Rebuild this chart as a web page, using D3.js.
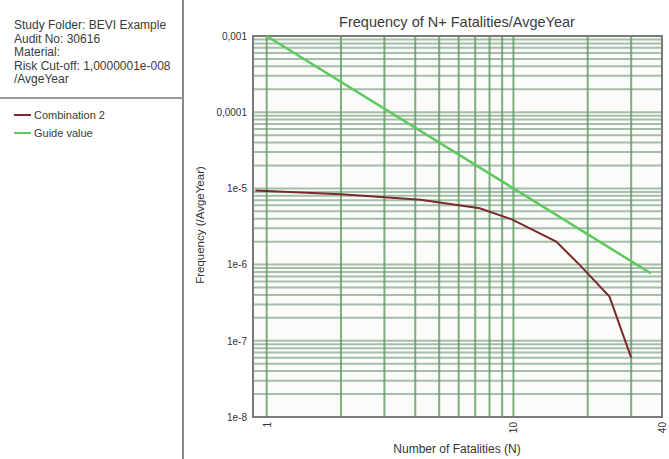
<!DOCTYPE html>
<html>
<head>
<meta charset="utf-8">
<script src="https://cdn.jsdelivr.net/npm/d3@7"></script>
<style>
  body { margin: 0; background: #fff; }
  svg { display: block; font-family: "Liberation Sans", Arial, sans-serif; }
  .axis path, .axis line { display: none; }
  .axis text { fill: #333; font-size: 10px; }
</style>
</head>
<body>
<svg id="fn-chart" width="669" height="459"></svg>
<script>
// header text of the study panel
var headerLines = ['Study Folder: BEVI Example', 'Audit No: 30616', 'Material:', 'Risk Cut-off: 1,0000001e-008', '/AvgeYear'];
var seriesNames = ['Combination 2', 'Guide value'];
var seriesColors = ['#7a2a2a', '#5cc95c'];

// Combination 2 F-N curve
var combN    = [0.9, 2, 4.2, 7.3, 9.9, 14.9, 18.5, 24.5, 30];
var combFreq = [9.4e-6, 8.4e-6, 7.1e-6, 5.5e-6, 3.9e-6, 2.0e-6, 1.0e-6, 3.8e-7, 6.0e-8];

// guide value line (1e-3 / N^2)
var guideN    = [1, 36];
var guideFreq = [1e-3, 7.7e-7];

var yTickValues = [1e-3, 1e-4, 1e-5, 1e-6, 1e-7, 1e-8];
var yTickLabels = ['0,001', '0,0001', '1e-5', '1e-6', '1e-7', '1e-8'];
var xTickValues = [1, 10, 40];
var xTickLabels = ['1', '10', '40'];

var xDomain = [0.88, 40];
var yDomain = [1e-8, 1e-3];

var margin = {top: 36, right: 7, bottom: 42, left: 253};
var width = 669 - margin.left - margin.right;
var height = 459 - margin.top - margin.bottom;

var svg = d3.select('#fn-chart');

// ---- left info panel ----
svg.append('line')
   .attr('x1', 183).attr('x2', 183).attr('y1', 0).attr('y2', 459)
   .attr('stroke', '#8a8a8a').attr('stroke-width', 2);

svg.append('line')
   .attr('x1', 0).attr('x2', 183).attr('y1', 98).attr('y2', 98)
   .attr('stroke', '#9a9a9a').attr('stroke-width', 2);

svg.selectAll('.header-line')
   .data(headerLines)
   .enter()
   .append('text')
   .attr('class', 'header-line')
   .attr('x', 14)
   .attr('y', (d, i) => 29 + i * 13.5)
   .attr('font-size', '12px')
   .attr('fill', '#3a3a3a')
   .text(d => d);

var legend = svg.selectAll('.legend-item')
   .data(seriesNames)
   .enter()
   .append('g')
   .attr('class', 'legend-item')
   .attr('transform', (d, i) => 'translate(14,' + (115 + i * 18) + ')');

legend.append('line')
   .attr('x1', 0).attr('x2', 17)
   .attr('stroke', (d, i) => seriesColors[i])
   .attr('stroke-width', 2);

legend.append('text')
   .attr('x', 20).attr('y', 4)
   .attr('font-size', '11px')
   .attr('fill', '#3a3a3a')
   .text(d => d);

// ---- plot ----
var x = d3.scaleLog().domain(xDomain).range([0, width]);
var y = d3.scaleLog().domain(yDomain).range([height, 0]);

var g = svg.append('g')
   .attr('transform', 'translate(' + margin.left + ',' + margin.top + ')');

g.append('rect')
 .attr('width', width).attr('height', height)
 .attr('fill', '#fbfcfa');

// horizontal grid (1..9 per decade)
g.selectAll('.hgrid')
 .data(y.ticks())
 .enter()
 .append('line')
 .attr('class', 'hgrid')
 .attr('x1', 0).attr('x2', width)
 .attr('y1', d => y(d)).attr('y2', d => y(d))
 .attr('stroke', '#8aa88e')
 .attr('stroke-opacity', 0.75)
 .attr('stroke-width', 2);

// vertical grid
g.selectAll('.vgrid')
 .data(x.ticks().filter(d => d >= 1 && d < 40))
 .enter()
 .append('line')
 .attr('class', 'vgrid')
 .attr('y1', 0).attr('y2', height)
 .attr('x1', d => x(d)).attr('x2', d => x(d))
 .attr('stroke', '#5f9a62')
 .attr('stroke-opacity', 0.8)
 .attr('stroke-width', 2);

// frame
g.append('rect')
 .attr('width', width).attr('height', height)
 .attr('fill', 'none')
 .attr('stroke', '#7a7a7a')
 .attr('stroke-width', 2);

var line = d3.line().x(d => x(d[0])).y(d => y(d[1]));

g.append('path')
 .datum(guideN.map((n, i) => [n, guideFreq[i]]))
 .attr('fill', 'none')
 .attr('stroke', seriesColors[1])
 .attr('stroke-width', 2.5)
 .attr('d', line);

g.append('path')
 .datum(combN.map((n, i) => [n, combFreq[i]]))
 .attr('fill', 'none')
 .attr('stroke', seriesColors[0])
 .attr('stroke-width', 2)
 .attr('d', line);

// axes
g.append('g')
 .attr('class', 'axis')
 .call(d3.axisLeft(y).tickValues(yTickValues).tickSize(0).tickPadding(6)
        .tickFormat((d, i) => yTickLabels[i]));

g.append('g')
 .attr('class', 'axis')
 .attr('transform', 'translate(0,' + height + ')')
 .call(d3.axisBottom(x).tickValues(xTickValues).tickSize(0)
        .tickFormat((d, i) => xTickLabels[i]))
 .selectAll('text')
 .attr('transform', 'rotate(-90)')
 .attr('text-anchor', 'end')
 .attr('dy', '0.35em')
 .attr('x', -5)
 .attr('y', 0);

// titles
svg.append('text')
   .attr('x', 457)
   .attr('y', 27)
   .attr('text-anchor', 'middle')
   .attr('font-size', '14.5px')
   .attr('fill', '#3a3a3a')
   .text('Frequency of N+ Fatalities/AvgeYear');

svg.append('text')
   .attr('x', 457)
   .attr('y', 453)
   .attr('text-anchor', 'middle')
   .attr('font-size', '12px')
   .attr('fill', '#333')
   .text('Number of Fatalities (N)');

svg.append('text')
   .attr('transform', 'translate(204,225) rotate(-90)')
   .attr('text-anchor', 'middle')
   .attr('font-size', '11.5px')
   .attr('fill', '#333')
   .text('Frequency (/AvgeYear)');
</script>
</body>
</html>
